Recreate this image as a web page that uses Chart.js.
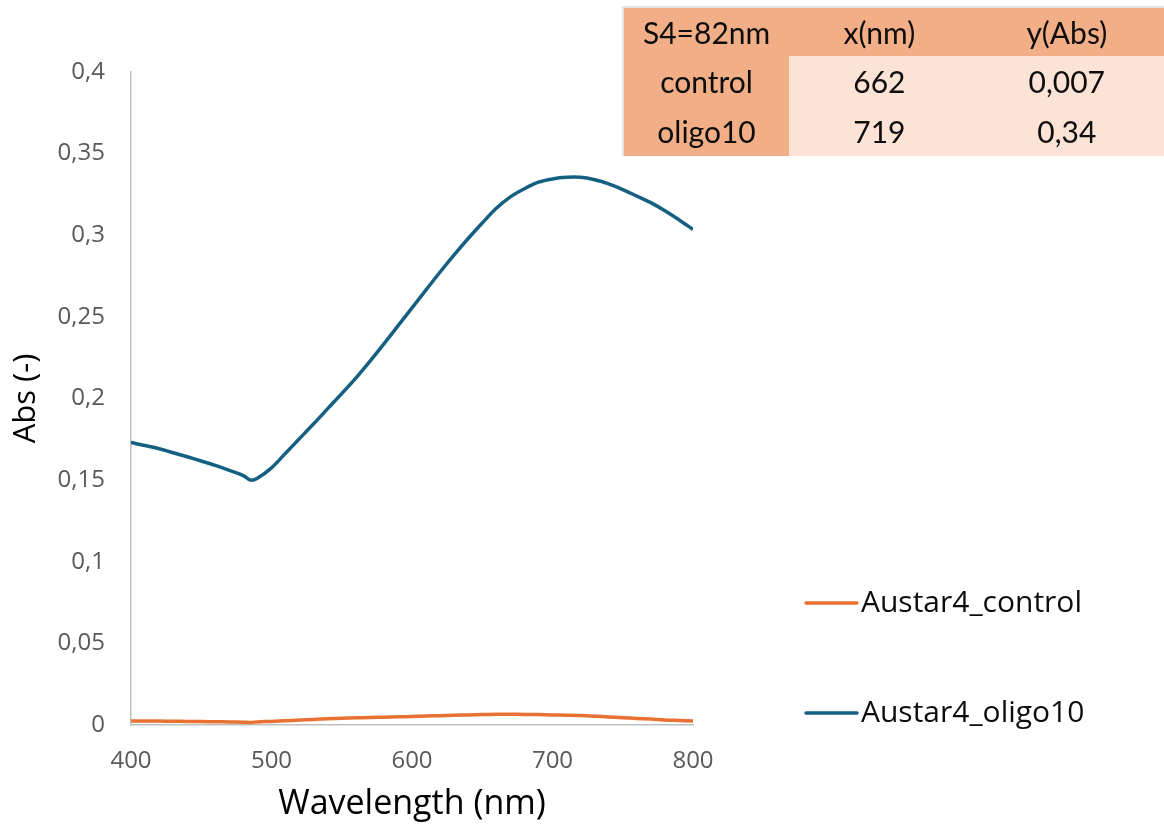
<!DOCTYPE html>
<html>
<head>
<meta charset="utf-8">
<script src="https://cdn.jsdelivr.net/npm/chart.js@4/dist/chart.umd.min.js"></script>
<style>
  html, body { margin: 0; padding: 0; background: #ffffff; overflow: hidden; }
  #wrap { position: relative; width: 1164px; height: 830px; }
  #chart { position: absolute; left: 0; top: 0; }
  #peaks {
    position: absolute; left: 622px; top: 6px;
    border-collapse: collapse;
    border-top: 2px solid #e3e3e3; border-left: 2px solid #e3e3e3;
    font-family: Lato, "Open Sans", sans-serif; font-size: 30px; color: #0d0d0d;
    table-layout: fixed;
  }
  #peaks td { padding: 0; text-align: center; vertical-align: middle; height: 50px; white-space: nowrap; }
  #peaks tr:first-child td { height: 48px; }
  #peaks td.head { background: #f2ae86; }
  #peaks td.cell { background: #fce3d6; }
</style>
</head>
<body>
<div id="wrap">
  <canvas id="chart" width="1164" height="830"></canvas>
  <table id="peaks"></table>
</div>
<script>
// Wavelength grid (nm) and measured absorbance for both samples
const wavelengths = [400, 410, 420, 430, 440, 450, 460, 470, 480, 485, 490, 500, 510, 520, 530, 540, 550, 560, 570, 580, 590,
                     600, 610, 620, 630, 640, 650, 660, 670, 680, 690, 700, 710, 720, 730, 740, 750, 760, 770, 780, 790, 800];
const controlAbs = [0.0025, 0.0025, 0.0024, 0.0023, 0.0022, 0.0021, 0.0020, 0.0019, 0.0017, 0.0016, 0.0019, 0.0022,
                    0.0026, 0.0030, 0.0034, 0.0038, 0.0041, 0.0044, 0.0046, 0.0048, 0.0050, 0.0052,
                    0.0055, 0.0057, 0.0060, 0.0062, 0.0064, 0.0066, 0.0066, 0.0065, 0.0064, 0.0062,
                    0.0060, 0.0058, 0.0054, 0.0049, 0.0045, 0.0040, 0.0036, 0.0031, 0.0028, 0.0025];
const oligo10Abs = [0.1730, 0.1712, 0.1692, 0.1668, 0.1643, 0.1617, 0.1590, 0.1560, 0.1528, 0.1500, 0.1512, 0.1575,
                    0.1665, 0.1755, 0.1845, 0.1938, 0.2030, 0.2125, 0.2228, 0.2335, 0.2445, 0.2555,
                    0.2665, 0.2775, 0.2880, 0.2980, 0.3075, 0.3165, 0.3235, 0.3285, 0.3325, 0.3345,
                    0.3355, 0.3355, 0.3340, 0.3315, 0.3280, 0.3240, 0.3200, 0.3150, 0.3095, 0.3035];
const seriesNames = ['Austar4_control', 'Austar4_oligo10'];
const seriesColors = ['#e97132', '#156082'];

// Axis ticks
const xTickValues = [400, 500, 600, 700, 800];
const yTickValues = [0, 0.05, 0.1, 0.15, 0.2, 0.25, 0.3, 0.35, 0.4];

// Peak summary table
const tableHeader = ['S4=82nm', 'x(nm)', 'y(Abs)'];
const tableRowNames = ['control', 'oligo10'];
const peakWavelength = ['662', '719'];
const peakAbs = ['0,007', '0,34'];

// Build the summary table
(function buildTable() {
  const t = document.getElementById('peaks');
  const colW = [167, 186, 200];
  const hr = t.insertRow();
  tableHeader.forEach((h, i) => {
    const c = hr.insertCell(); c.textContent = h; c.className = 'head'; c.style.width = colW[i] + 'px';
  });
  tableRowNames.forEach((name, r) => {
    const row = t.insertRow();
    const a = row.insertCell(); a.textContent = name; a.className = 'head';
    const b = row.insertCell(); b.textContent = peakWavelength[r]; b.className = 'cell';
    const c = row.insertCell(); c.textContent = peakAbs[r]; c.className = 'cell';
  });
})();

const toPoints = ys => wavelengths.map((w, i) => ({ x: w, y: ys[i] }));
const commaNum = v => String(Math.round(v * 1000) / 1000).replace('.', ',');

// Legend drawn to the right of the plot
const sideLegend = {
  id: 'sideLegend',
  afterDraw(chart) {
    const ctx = chart.ctx;
    const rowsY = [603, 713];
    ctx.save();
    chart.data.datasets.forEach((ds, i) => {
      const y = rowsY[i];
      ctx.strokeStyle = ds.borderColor;
      ctx.lineWidth = 3.5;
      ctx.lineCap = 'round';
      ctx.beginPath();
      ctx.moveTo(806, y);
      ctx.lineTo(857, y);
      ctx.stroke();
      ctx.fillStyle = '#0d0d0d';
      ctx.font = '30px "Open Sans"';
      ctx.textAlign = 'left';
      ctx.textBaseline = 'middle';
      ctx.fillText(ds.label, 861, y);
    });
    ctx.restore();
  }
};

new Chart(document.getElementById('chart'), {
  type: 'line',
  data: {
    datasets: [
      { label: seriesNames[0], data: toPoints(controlAbs), borderColor: seriesColors[0], borderWidth: 3.5,
        pointRadius: 0, tension: 0.3, fill: false },
      { label: seriesNames[1], data: toPoints(oligo10Abs), borderColor: seriesColors[1], borderWidth: 3.5,
        pointRadius: 0, tension: 0.3, fill: false }
    ]
  },
  options: {
    responsive: false,
    animation: false,
    events: [],
    layout: { padding: { left: 0, top: 72, right: 471, bottom: 0 } },
    plugins: { legend: { display: false }, tooltip: { enabled: false } },
    scales: {
      x: {
        type: 'linear', min: 400, max: 800,
        afterFit: s => { s.height = 105; },
        afterBuildTicks: s => { s.ticks = xTickValues.map(v => ({ value: v })); },
        grid: { display: false, drawTicks: false },
        border: { display: true, color: '#bfbfbf', width: 1.5 },
        ticks: { color: '#595959', font: { family: 'Open Sans', size: 24 }, padding: 22, maxRotation: 0 },
        title: { display: true, text: 'Wavelength (nm)', color: '#000000',
                 font: { family: 'Open Sans', size: 34 }, padding: { top: 0, bottom: 5 } }
      },
      y: {
        type: 'linear', min: 0, max: 0.4,
        afterFit: s => { s.width = 131; },
        afterBuildTicks: s => { s.ticks = yTickValues.map(v => ({ value: v })); },
        grid: { display: false, drawTicks: false },
        border: { display: true, color: '#bfbfbf', width: 1.5 },
        ticks: { color: '#595959', font: { family: 'Open Sans', size: 24 }, padding: 26,
                 callback: v => commaNum(v) },
        title: { display: true, text: 'Abs (-)', color: '#000000', align: 'center',
                 font: { family: 'Open Sans', size: 31 }, padding: { top: 8, bottom: 0 } }
      }
    }
  },
  plugins: [sideLegend]
});
</script>
</body>
</html>
